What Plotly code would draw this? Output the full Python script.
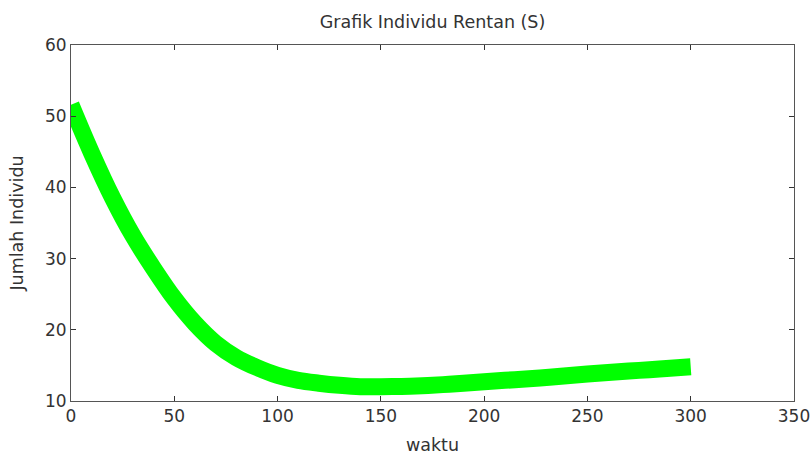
import plotly.graph_objects as go

# Data
waktu = [0, 10, 20, 30, 40, 50, 60, 70, 80, 90, 100, 110, 120, 130, 140, 150,
         160, 170, 180, 190, 200, 210, 220, 230, 240, 250, 260, 270, 280, 290, 300]
rentan = [51.6, 44.8, 38.6, 33.2, 28.6, 24.4, 20.9, 18.1, 16.1, 14.7, 13.6, 12.9,
          12.5, 12.2, 12.0, 12.0, 12.05, 12.15, 12.3, 12.5, 12.7, 12.9, 13.1, 13.3,
          13.55, 13.8, 14.0, 14.2, 14.4, 14.6, 14.8]

x_ticks = [0, 50, 100, 150, 200, 250, 300, 350]
y_ticks = [10, 20, 30, 40, 50, 60]

font_family = "DejaVu Sans, Arial, sans-serif"
text_color = "#333333"

fig = go.Figure()
fig.add_trace(go.Scatter(
    x=waktu, y=rentan, mode="lines",
    line=dict(color="#00FF00", width=17, shape="spline"),
    showlegend=False, cliponaxis=False,
))

axis_common = dict(
    showline=True, linecolor="#555555", linewidth=1, mirror="ticks",
    ticks="inside", ticklen=5, tickcolor="#333333", tickwidth=1,
    showgrid=False, zeroline=False, automargin=False,
    tickfont=dict(family=font_family, size=17, color=text_color),
)

fig.update_layout(
    width=811, height=455,
    margin=dict(l=71, r=17, t=45, b=54, autoexpand=False),
    paper_bgcolor="white", plot_bgcolor="white",
    title=dict(text="Grafik Individu Rentan (S)", xref="paper", x=0.5,
               xanchor="center", y=0.952, yanchor="middle", automargin=False,
               font=dict(family=font_family, size=17.5, color=text_color)),
    xaxis=dict(range=[0, 350], tickvals=x_ticks, **axis_common,
               title=dict(text="waktu", standoff=17,
                          font=dict(family=font_family, size=17.5, color=text_color))),
    yaxis=dict(range=[10, 60], tickvals=y_ticks, **axis_common,
               title=dict(text="Jumlah Individu", standoff=16,
                          font=dict(family=font_family, size=17.5, color=text_color))),
)

# Remove the default page margin so the 811x455 figure fills the window exactly
fig.write_html(
    "out.html",
    config={"displayModeBar": False},
    post_script="document.body.style.margin='0';document.body.style.overflow='hidden';",
)
